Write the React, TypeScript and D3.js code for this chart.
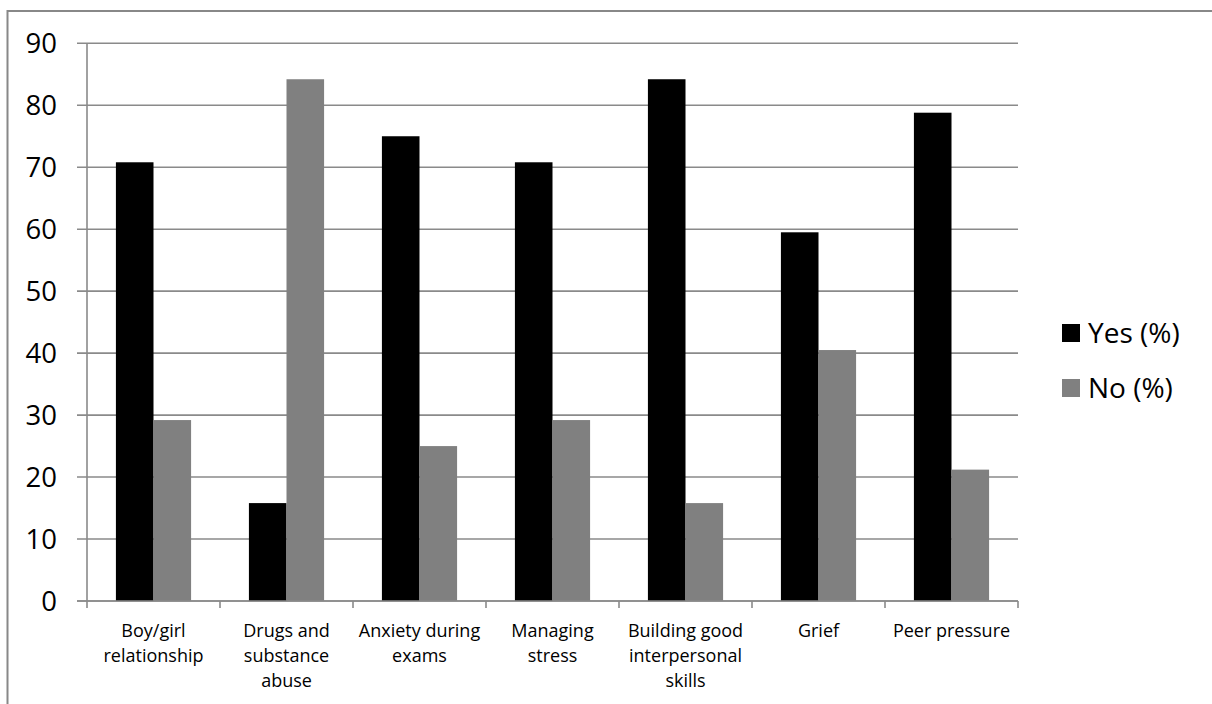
import React from "react";
import * as d3 from "d3";

const categories: string[][] = [
  ["Boy/girl", "relationship"],
  ["Drugs and", "substance", "abuse"],
  ["Anxiety during", "exams"],
  ["Managing", "stress"],
  ["Building good", "interpersonal", "skills"],
  ["Grief"],
  ["Peer pressure"],
];
const yesValues = [70.8, 15.8, 75.0, 70.8, 84.2, 59.5, 78.8];
const noValues = [29.2, 84.2, 25.0, 29.2, 15.8, 40.5, 21.2];
const yTicks = [0, 10, 20, 30, 40, 50, 60, 70, 80, 90];
const seriesNames = ["Yes (%)", "No (%)"];
const seriesColors = ["#000000", "#808080"];

const W = 1212;
const H = 704;
const left = 87;
const right = 1018;
const top = 43.3;
const bottom = 601;
const FONT = "'Open Sans', sans-serif";

export default function App() {
  const idx = categories.map((_, i) => String(i));
  const x = d3.scaleBand().domain(idx).range([left, right]).paddingInner(0).paddingOuter(0);
  const bw = x.bandwidth();
  const inner = d3
    .scaleBand()
    .domain(["0", "1"])
    .range([0, bw])
    .paddingInner(0)
    .paddingOuter(29 / 37.7);
  const y = d3.scaleLinear().domain([0, 90]).range([bottom, top]);
  const series = [yesValues, noValues];
  const gridColor = "#8a8a8a";

  return (
    <svg
      width={W}
      height={H}
      style={{ position: "absolute", left: 0, top: 0, background: "#fff" }}
      fontFamily={FONT}
    >
      <rect x={0} y={0} width={W} height={H} fill="#fff" />
      <path d={`M7.5,${H}V11H${W}`} fill="none" stroke="#888" strokeWidth={2} />
      {yTicks.map((t) => (
        <g key={t}>
          <line x1={77} x2={right} y1={y(t)} y2={y(t)} stroke={gridColor} strokeWidth={1.6} />
          <text x={57} y={y(t) + 10} fontSize={27.5} textAnchor="end" fill="#000">
            {t}
          </text>
        </g>
      ))}
      {series.map((vals, s) =>
        vals.map((v, i) => (
          <rect
            key={`${s}-${i}`}
            x={(x(String(i)) as number) + (inner(String(s)) as number)}
            y={y(v)}
            width={inner.bandwidth()}
            height={y(0) - y(v)}
            fill={seriesColors[s]}
          />
        ))
      )}
      <line x1={left} x2={left} y1={top} y2={bottom} stroke={gridColor} strokeWidth={1.6} />
      <line x1={77} x2={right} y1={bottom} y2={bottom} stroke={gridColor} strokeWidth={1.6} />
      {idx.concat([String(categories.length)]).map((k, i) => {
        const xp = i < categories.length ? (x(k) as number) : right;
        return <line key={k} x1={xp} x2={xp} y1={bottom} y2={bottom + 7} stroke={gridColor} strokeWidth={1.6} />;
      })}
      {categories.map((lines, i) => (
        <text
          key={i}
          x={(x(String(i)) as number) + bw / 2}
          y={637}
          fontSize={18}
          textAnchor="middle"
          fill="#000"
        >
          {lines.map((l, j) => (
            <tspan key={j} x={(x(String(i)) as number) + bw / 2} dy={j === 0 ? 0 : 25}>
              {l}
            </tspan>
          ))}
        </text>
      ))}
      {seriesNames.map((n, s) => (
        <g key={n}>
          <rect x={1062} y={324 + s * 55} width={18} height={18} fill={seriesColors[s]} />
          <text x={1088} y={343 + s * 55} fontSize={28} fill="#000">
            {n}
          </text>
        </g>
      ))}
    </svg>
  );
}
